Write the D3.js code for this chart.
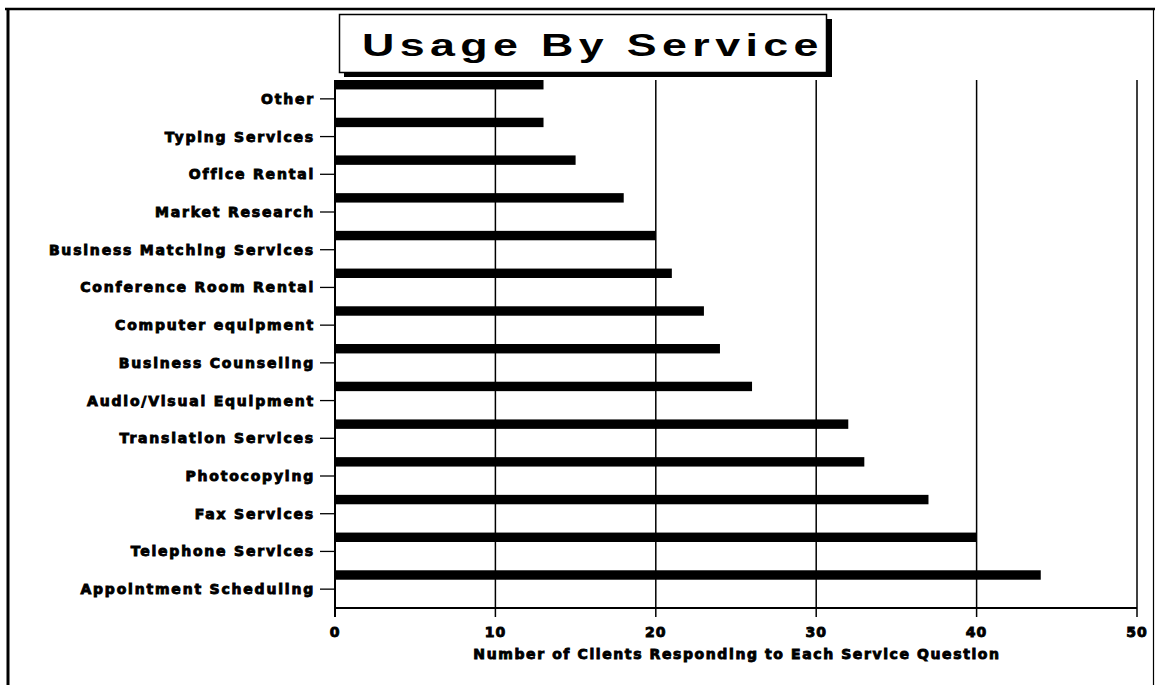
<!DOCTYPE html>
<html>
<head>
<meta charset="utf-8">
<script src="https://cdn.jsdelivr.net/npm/d3@7"></script>
<style>
  body { margin: 0; background: #fff; }
  svg text { fill: #000; }
  .lbl { font-family: "DejaVu Sans", sans-serif; font-weight: bold; font-size: 14px; letter-spacing: 1.8px;
         stroke: #000; stroke-width: 0.9px; }
</style>
</head>
<body>
<svg id="chart" width="1156" height="685"></svg>
<script>
// categories top to bottom, as they appear on the chart
var categories = ["Other", "Typing Services", "Office Rental", "Market Research",
    "Business Matching Services", "Conference Room Rental", "Computer equipment",
    "Business Counseling", "Audio/Visual Equipment", "Translation Services",
    "Photocopying", "Fax Services", "Telephone Services", "Appointment Scheduling"];
var counts = [13, 13, 15, 18, 20, 21, 23, 24, 26, 32, 33, 37, 40, 44];
var xTicks = [0, 10, 20, 30, 40, 50];
var title = "Usage By Service";
var xTitle = "Number of Clients Responding to Each Service Question";

var svg = d3.select("#chart");
var plotLeft = 335, plotRight = 1137, plotTop = 80, plotBottom = 608;

var x = d3.scaleLinear().domain([0, 50]).range([plotLeft, plotRight]);
var y = d3.scaleBand().domain(categories).range([plotTop, plotBottom]).paddingInner(0);

// outer frame
svg.append("line").attr("x1", 5).attr("x2", 1155).attr("y1", 9).attr("y2", 9)
    .attr("stroke", "#000").attr("stroke-width", 2.5);
svg.append("line").attr("x1", 8).attr("x2", 8).attr("y1", 8).attr("y2", 685)
    .attr("stroke", "#000").attr("stroke-width", 3);
svg.append("line").attr("x1", 1153.5).attr("x2", 1153.5).attr("y1", 8).attr("y2", 685)
    .attr("stroke", "#000").attr("stroke-width", 1.2);

// gridlines (also act as bottom ticks)
svg.append("g").selectAll("line").data(xTicks).enter().append("line")
    .attr("x1", function (d) { return x(d); })
    .attr("x2", function (d) { return x(d); })
    .attr("y1", plotTop).attr("y2", plotBottom + 9)
    .attr("stroke", "#000").attr("stroke-width", function (d) { return d === 0 ? 2 : 1.5; });

// bottom axis line
svg.append("line").attr("x1", plotLeft).attr("x2", plotRight).attr("y1", plotBottom).attr("y2", plotBottom)
    .attr("stroke", "#000").attr("stroke-width", 1.8);

// bars sit at the top of each band
var barH = y.bandwidth() * 0.25;
svg.append("g").selectAll("rect").data(categories).enter().append("rect")
    .attr("x", plotLeft)
    .attr("y", function (d) { return y(d); })
    .attr("width", function (d, i) { return x(counts[i]) - plotLeft; })
    .attr("height", barH)
    .attr("fill", "#000");

// category ticks and labels
var yAx = svg.append("g");
yAx.selectAll("line").data(categories).enter().append("line")
    .attr("x1", 320).attr("x2", plotLeft)
    .attr("y1", function (d) { return y(d) + y.bandwidth() / 2; })
    .attr("y2", function (d) { return y(d) + y.bandwidth() / 2; })
    .attr("stroke", "#000").attr("stroke-width", 1.3);
yAx.selectAll("text").data(categories).enter().append("text")
    .attr("class", "lbl")
    .attr("x", 315)
    .attr("y", function (d) { return y(d) + y.bandwidth() / 2; })
    .attr("dy", "0.36em")
    .attr("text-anchor", "end")
    .text(function (d) { return d; });

// x tick labels
svg.append("g").selectAll("text").data(xTicks).enter().append("text")
    .attr("class", "lbl")
    .attr("x", function (d) { return x(d); })
    .attr("y", 637)
    .attr("text-anchor", "middle")
    .style("letter-spacing", "1px")
    .text(function (d) { return d; });

svg.append("text").attr("class", "lbl")
    .attr("x", (plotLeft + plotRight) / 2 + 1).attr("y", 659)
    .attr("text-anchor", "middle")
    .style("letter-spacing", "1.6px")
    .text(xTitle);

// title box with shadow
svg.append("rect").attr("x", 344).attr("y", 19).attr("width", 488).attr("height", 58).attr("fill", "#000");
svg.append("rect").attr("x", 339.5).attr("y", 14.5).attr("width", 487).attr("height", 58)
    .attr("fill", "#fff").attr("stroke", "#000").attr("stroke-width", 1.5);
// the original title face is a wide grotesque: stretch it horizontally
svg.append("text")
    .attr("transform", "translate(362,56) scale(1.4,1)")
    .attr("textLength", 326).attr("lengthAdjust", "spacing")
    .style("font-family", "'Liberation Sans', Arial, sans-serif")
    .style("font-weight", "bold")
    .style("font-size", "32px")
    .text(title);
</script>
</body>
</html>
